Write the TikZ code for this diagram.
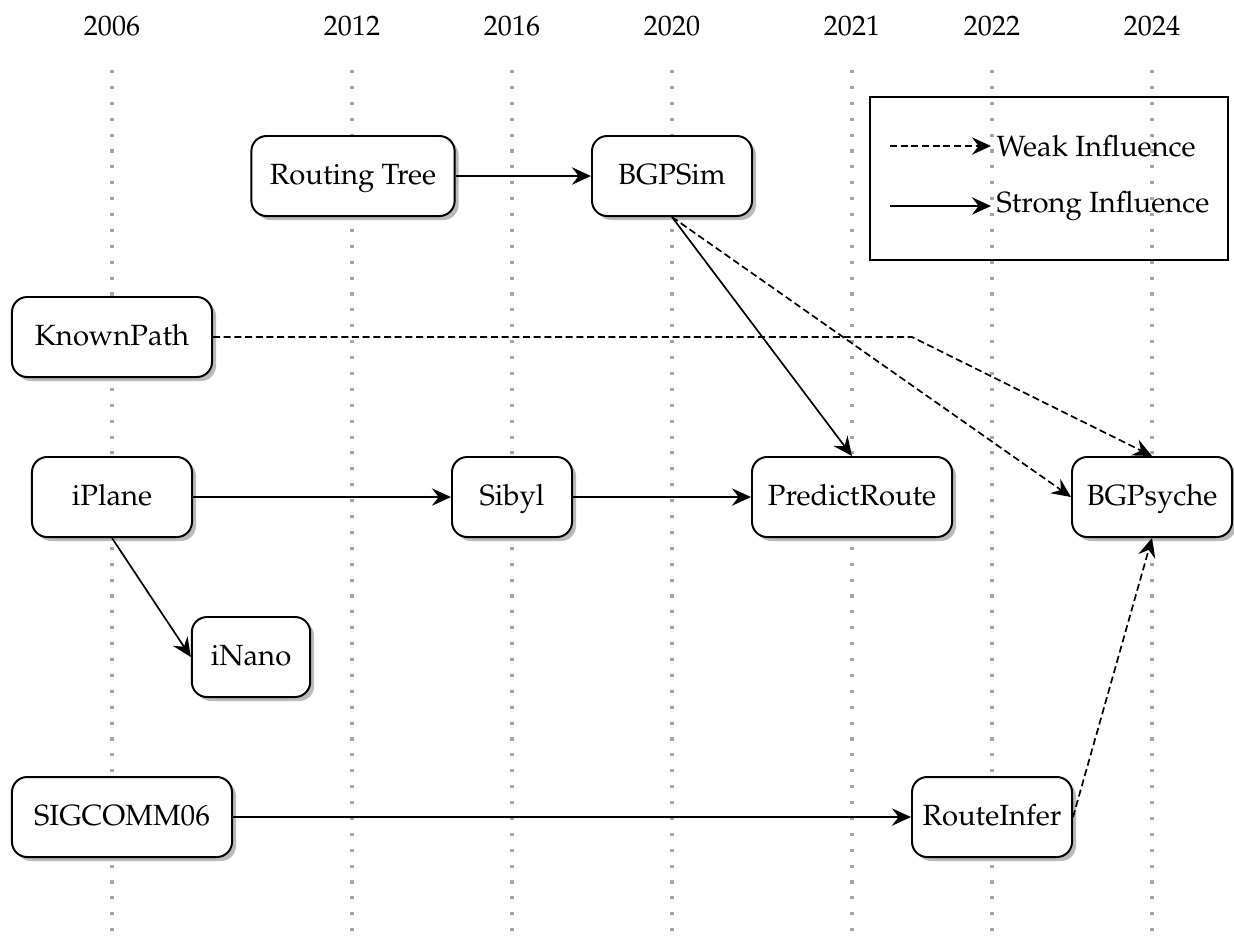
\documentclass[tikz,border=0pt]{standalone}
\usepackage[T1]{fontenc}
\usepackage{mathpazo}
\usetikzlibrary{arrows.meta,shadows}

\newcommand{\boxfont}{\fontsize{10.4}{12.5}\selectfont}

\tikzset{
  paper/.style={
    draw, fill=white, rounded corners=0.19cm, line width=0.7pt,
    minimum height=1cm, inner sep=0pt, align=center, font=\boxfont,
    text height=1.55ex, text depth=0.25ex,
    drop shadow={shadow xshift=0.05cm, shadow yshift=-0.05cm,
                 fill=black!27, opacity=1}
  },
  yearlabel/.style={inner sep=0pt},
  legendtext/.style={anchor=west, inner sep=0pt, font=\boxfont},
  timeline/.style={draw=black!35, line width=1.1pt, dash pattern=on 1.1pt off 4.55pt},
  strong/.style={line width=0.6pt, -{Stealth[length=6.8pt,width=6.2pt,inset=2.4pt]}},
  weak/.style={strong, dash pattern=on 2.5pt off 1.3pt},
  legendbox/.style={draw, line width=0.8pt, minimum width=4.475cm,
                    minimum height=2.04cm, inner sep=0pt}
}

\begin{document}
\begin{tikzpicture}[x=0.0125cm, y=-0.0125cm]
  \useasboundingbox (0,0) rectangle (1234,937);

  % year columns
  \foreach \xx/\yr in {112/2006, 352/2012, 512/2016, 672/2020,
                       852/2021, 992/2022, 1152/2024} {
    \node[yearlabel] (y\yr) at (\xx,26) {\yr};
    \draw[timeline] (\xx,70) -- (\xx,937);
  }

  % papers
  \node[paper, minimum width=2.54cm] (rt)       at (353,176) {Routing Tree};
  \node[paper, minimum width=2cm]    (bgpsim)   at (672,176) {BGPSim};
  \node[paper, minimum width=2.5cm]  (known)    at (112,337) {KnownPath};
  \node[paper, minimum width=2cm]    (iplane)   at (112,497) {iPlane};
  \node[paper, minimum width=1.5cm]  (sibyl)    at (512,497) {Sibyl};
  \node[paper, minimum width=2.5cm]  (predict)  at (852,497) {PredictRoute};
  \node[paper, minimum width=2cm]    (bgpsyche) at (1152,497) {BGPsyche};
  \node[paper, minimum width=1.48cm] (inano)    at (251,657) {iNano};
  \node[paper, minimum width=2.75cm] (sigcomm)  at (122,817) {SIGCOMM06};
  \node[paper, minimum width=2cm]    (rinfer)   at (992,817) {RouteInfer};

  % legend
  \node[legendbox] (legend) at (1049,178.5) {};
  \coordinate (wa) at (890,146);
  \coordinate (wb) at (991,146);
  \coordinate (sa) at (890,206);
  \coordinate (sb) at (991,206);
  \draw[weak] (wa) -- (wb);
  \draw[strong] (sa) -- (sb);
  \node[legendtext] (weaktxt) at (996,146) {Weak Influence};
  \node[legendtext] (strongtxt) at (996,206) {Strong Influence};

  % influences
  \coordinate (kbend) at (912,337);
  \draw[strong] (rt) -- (bgpsim);
  \draw[strong] (bgpsim.south) -- (predict.north);
  \draw[weak] (bgpsim.south) -- (bgpsyche.west);
  \draw[weak] (known.east) -- (kbend) -- (bgpsyche.north);
  \draw[strong] (iplane) -- (sibyl);
  \draw[strong] (sibyl) -- (predict);
  \draw[strong] (iplane.south) -- (inano.west);
  \draw[strong] (sigcomm) -- (rinfer);
  \draw[weak] (rinfer.east) -- (bgpsyche.south);
\end{tikzpicture}
\end{document}
